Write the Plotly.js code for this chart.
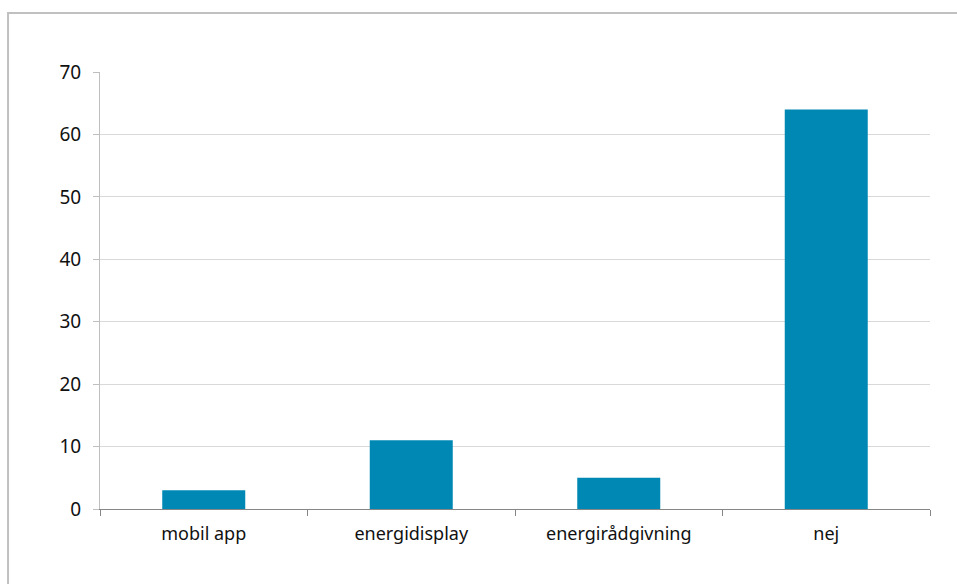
<!DOCTYPE html>
<html>
<head>
<meta charset="utf-8">
<script src="https://cdn.plot.ly/plotly-3.0.1.min.js"></script>
<style>html,body{margin:0;padding:0;background:#fff;}#chart{width:957px;height:584px;}</style>
</head>
<body>
<div id="chart"></div>
<script>
const categories = ["mobil app", "energidisplay", "energirådgivning", "nej"];
const values = [3, 11, 5, 64];
const yTicks = [0, 10, 20, 30, 40, 50, 60, 70];

const trace = {
  type: "bar",
  x: categories,
  y: values,
  marker: { color: "#0088B4" },
  hoverinfo: "x+y"
};

const font = { family: "Noto Sans, Liberation Sans, sans-serif", size: 18, color: "#111" };
const yfont = { family: "Noto Sans, Liberation Sans, sans-serif", size: 19, color: "#111" };

const layout = {
  width: 957,
  height: 584,
  margin: { l: 100, r: 27, t: 72, b: 75 },
  paper_bgcolor: "#fff",
  plot_bgcolor: "#fff",
  showlegend: false,
  bargap: 0.6,
  font: font,
  xaxis: {
    type: "category",
    tickson: "boundaries",
    ticks: "outside",
    ticklen: 6,
    tickcolor: "#868686",
    showline: true,
    linecolor: "#868686",
    linewidth: 1,
    showgrid: false,
    zeroline: false,
    tickfont: font,
    ticklabelstandoff: 8,
    fixedrange: true
  },
  yaxis: {
    range: [0, 70],
    tickvals: yTicks,
    ticks: "outside",
    ticklen: 6,
    tickcolor: "#bfbfbf",
    showline: true,
    linecolor: "#bfbfbf",
    linewidth: 1,
    showgrid: true,
    gridcolor: "#d9d9d9",
    gridwidth: 1,
    zeroline: false,
    tickfont: yfont,
    ticklabelstandoff: 8,
    fixedrange: true
  },
  shapes: [{
    type: "rect",
    xref: "paper", yref: "paper",
    x0: -0.1108, x1: 1.2,
    y0: -0.3, y1: 1.135,
    line: { color: "#c0c0c0", width: 2 },
    fillcolor: "rgba(0,0,0,0)",
    layer: "below"
  }]
};

Plotly.newPlot("chart", [trace], layout, { displayModeBar: false, staticPlot: true });
</script>
</body>
</html>
